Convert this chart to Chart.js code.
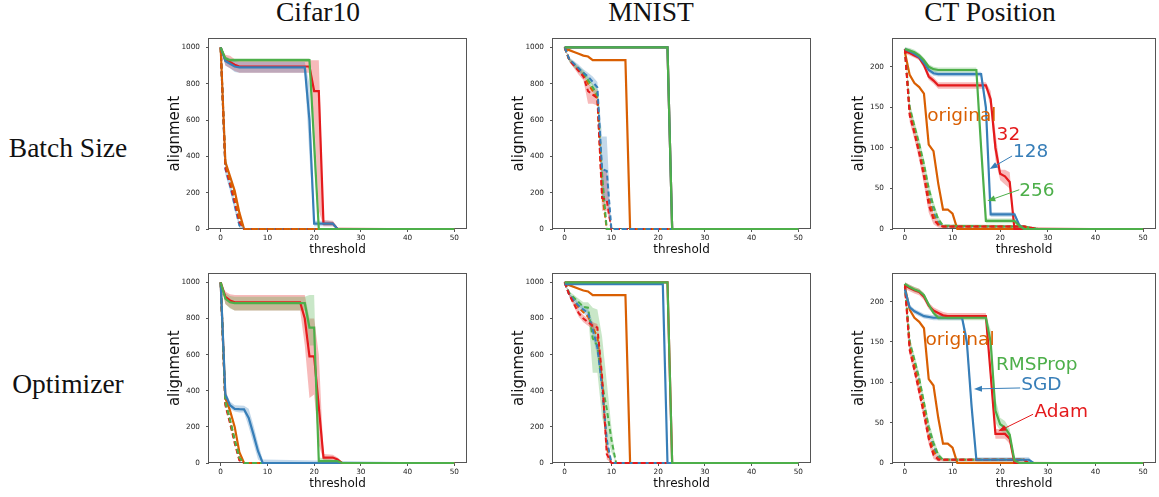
<!DOCTYPE html>
<html>
<head>
<meta charset="utf-8">
<script src="https://cdn.jsdelivr.net/npm/chart.js@4.4.1/dist/chart.umd.min.js"></script>
<style>
  body { margin: 0; background: #fff; width: 1159px; height: 497px; position: relative; overflow: hidden; }
  .lbl { position: absolute; font-family: "Liberation Serif", "Times New Roman", serif; font-size: 27.5px;
         line-height: 1; white-space: nowrap; transform: translate(-50%, -50%); color: #111; }
  canvas { position: absolute; }
</style>
</head>
<body>
<div class="lbl" style="left:318px; top:12px">Cifar10</div>
<div class="lbl" style="left:651px; top:12px">MNIST</div>
<div class="lbl" style="left:990px; top:12px">CT Position</div>
<div class="lbl" style="left:68px; top:148px">Batch Size</div>
<div class="lbl" style="left:68px; top:384px">Optimizer</div>

<script>
// ---- axis ticks ----
const thresholdTicks = [0, 10, 20, 30, 40, 50];
const countTicks = [0, 200, 400, 600, 800, 1000];
const ctTicks = [0, 50, 100, 150, 200];

// ---- Cifar10 / batch size ----
const cbX32 = [0, 1, 2, 3, 4, 19, 20, 21, 22, 24, 25, 50];
const cb32 = [1000, 930, 920, 905, 895, 895, 760, 760, 30, 30, 0, 0];
const cb32Hi = [1000, 960, 955, 935, 930, 930, 930, 930, 50, 45, 10, 0];
const cb32Lo = [1000, 900, 885, 870, 860, 860, 600, 100, 15, 15, 0, 0];
const cbX128 = [0, 1, 2, 3, 4, 18, 19, 20, 23, 24, 25, 50];
const cb128 = [1000, 925, 910, 895, 890, 890, 600, 30, 30, 30, 0, 0];
const cb128Hi = [1000, 950, 935, 925, 920, 920, 800, 45, 45, 40, 5, 0];
const cb128Lo = [1000, 900, 885, 865, 860, 860, 400, 15, 15, 15, 0, 0];
const cbX256 = [0, 1, 2, 19, 20, 21, 50];
const cb256 = [1000, 940, 930, 930, 470, 0, 0];
const cb256Hi = [1000, 950, 940, 940, 600, 0, 0];
const cb256Lo = [1000, 930, 920, 920, 350, 0, 0];
const cbXOrig = [0, 1, 2, 3, 4, 5, 50];
const cbOrig = [1000, 370, 290, 210, 90, 0, 0];
const cbOrigDash = [1000, 360, 270, 180, 60, 0, 0];
const cb32Dash = [1000, 340, 250, 150, 40, 0, 0];
const cb128Dash = [1000, 330, 240, 130, 20, 0, 0];
const cb128DashHi = [1000, 360, 270, 160, 40, 0, 0];
const cb128DashLo = [1000, 300, 210, 100, 5, 0, 0];
const cb256Dash = [1000, 350, 260, 160, 50, 0, 0];

// ---- MNIST / batch size ----
const mbXTop = [0, 22, 23, 50];
const mb32 = [1000, 1000, 0, 0];
const mb128 = [1000, 1000, 0, 0];
const mb256 = [1000, 1000, 0, 0];
const mbXOrig = [0, 1, 2, 3, 4, 5, 6, 13, 14, 50];
const mbOrig = [990, 985, 975, 965, 955, 950, 930, 930, 0, 0];
const mbXDash = [0, 1, 2, 3, 4, 5, 6, 7, 8, 9, 10, 50];
const mb128Dash = [1000, 935, 910, 885, 860, 840, 810, 780, 330, 320, 0, 0];
const mb128DashHi = [1000, 945, 925, 905, 880, 860, 840, 810, 510, 510, 0, 0];
const mb128DashLo = [1000, 925, 895, 865, 840, 820, 790, 760, 150, 150, 0, 0];
const mb32Dash = [1000, 930, 900, 870, 840, 760, 740, 720, 170, 160, 0, 0];
const mb32DashHi = [1000, 940, 915, 890, 860, 800, 780, 760, 330, 320, 0, 0];
const mb32DashLo = [1000, 920, 885, 850, 820, 690, 690, 680, 100, 100, 0, 0];
const mb256Dash = [1000, 930, 905, 880, 860, 820, 780, 740, 300, 0, 0, 0];
const mb256DashHi = [1000, 940, 920, 895, 875, 840, 800, 770, 400, 0, 0, 0];
const mb256DashLo = [1000, 920, 890, 865, 845, 800, 760, 710, 200, 0, 0, 0];
const mbOrigDash = [1000, 930, 905, 875, 850, 800, 760, 720, 200, 0, 0, 0];

// ---- CT Position / batch size ----
const tbX256 = [0, 1, 2, 3, 4, 5, 6, 7, 15, 16, 17, 23, 24, 25, 50];
const tb256 = [222, 220, 218, 214, 208, 200, 197, 196, 196, 100, 10, 10, 4, 0, 0];
const tb256Hi = [224, 223, 221, 217, 211, 203, 200, 199, 199, 110, 13, 13, 6, 0, 0];
const tb256Lo = [220, 217, 215, 211, 205, 197, 194, 193, 193, 90, 7, 7, 2, 0, 0];
const tbX128 = [0, 1, 2, 3, 4, 5, 6, 7, 16, 17, 18, 23, 24, 25, 50];
const tb128 = [222, 219, 216, 212, 205, 196, 192, 191, 191, 150, 18, 18, 5, 0, 0];
const tb128Hi = [224, 222, 219, 215, 208, 199, 195, 194, 194, 160, 21, 21, 7, 1, 0];
const tb128Lo = [220, 216, 213, 209, 202, 193, 189, 188, 188, 140, 15, 15, 3, 0, 0];
const tbX32 = [0, 1, 2, 3, 4, 5, 6, 7, 17, 18, 19, 20, 21, 22, 23, 50];
const tb32 = [219, 217, 214, 211, 202, 188, 183, 177, 177, 160, 100, 68, 65, 58, 0, 0];
const tb32Hi = [222, 220, 217, 214, 206, 192, 187, 181, 181, 170, 120, 73, 73, 70, 3, 0];
const tb32Lo = [216, 214, 211, 208, 198, 184, 179, 173, 173, 150, 85, 60, 55, 50, 0, 0];
const tbXOrig = [0, 1, 2, 3, 4, 5, 6, 7, 8, 9, 10, 11, 50];
const tbOrig = [218, 190, 180, 175, 167, 104, 96, 56, 24, 24, 19, 0, 0];
const tbXDash = [0, 1, 2, 3, 4, 5, 6, 7, 8, 25, 28, 50];
const tb32Dash = [222, 140, 118, 93, 65, 30, 12, 5, 3, 3, 0, 0];
const tb32DashHi = [222, 148, 126, 101, 75, 40, 20, 9, 5, 5, 0, 0];
const tb32DashLo = [222, 132, 110, 85, 55, 20, 6, 2, 1, 1, 0, 0];
const tb128Dash = [222, 145, 122, 98, 72, 42, 20, 8, 3, 3, 0, 0];
const tb256Dash = [222, 150, 127, 105, 80, 50, 28, 12, 4, 3, 0, 0];
const tb256DashHi = [222, 156, 133, 111, 87, 57, 34, 16, 6, 5, 0, 0];
const tb256DashLo = [222, 144, 121, 99, 73, 43, 22, 8, 2, 1, 0, 0];
const tbOrigDash = [222, 143, 120, 96, 70, 38, 16, 6, 3, 3, 0, 0];

// ---- Cifar10 / optimizer ----
const coXAdam = [0, 1, 2, 3, 17, 18, 19, 20, 21, 22, 24, 25, 26, 50];
const coAdam = [1000, 920, 900, 890, 890, 800, 590, 590, 310, 30, 30, 20, 0, 0];
const coAdamHi = [1000, 950, 935, 930, 930, 930, 800, 800, 600, 50, 45, 30, 5, 0];
const coAdamLo = [1000, 880, 860, 845, 845, 650, 360, 380, 100, 15, 15, 10, 0, 0];
const coXRms = [0, 1, 2, 3, 18, 19, 20, 21, 25, 26, 50];
const coRms = [1000, 910, 890, 885, 885, 750, 750, 10, 10, 0, 0];
const coRmsHi = [1000, 940, 925, 920, 920, 930, 930, 30, 15, 0, 0];
const coRmsLo = [1000, 880, 855, 845, 845, 650, 650, 0, 0, 0, 0];
const coXSgd = [0, 1, 2, 3, 4, 5, 6, 7, 8, 9, 50];
const coSgd = [1000, 380, 320, 300, 298, 297, 250, 160, 65, 0, 0];
const coSgdHi = [1000, 400, 340, 320, 318, 317, 300, 210, 110, 20, 0];
const coSgdLo = [1000, 360, 300, 285, 280, 280, 200, 110, 20, 0, 0];
const coXOrig = [0, 1, 2, 3, 4, 5, 50];
const coOrig = [1000, 360, 290, 200, 60, 0, 0];
const coAdamDash = [1000, 320, 220, 110, 15, 0, 0];
const coSgdDash = [1000, 330, 230, 120, 20, 0, 0];
const coRmsDash = [1000, 340, 240, 130, 30, 0, 0];
const coOrigDash = [1000, 335, 235, 125, 25, 0, 0];

// ---- MNIST / optimizer ----
const moXTop = [0, 22, 23, 50];
const moAdam = [1000, 1000, 0, 0];
const moRms = [1000, 1000, 0, 0];
const moXSgd = [0, 21, 22, 50];
const moSgd = [990, 990, 0, 0];
const moXOrig = [0, 1, 2, 3, 4, 5, 6, 13, 14, 50];
const moOrig = [990, 985, 975, 965, 955, 950, 930, 930, 0, 0];
const moXDash = [0, 1, 2, 3, 4, 5, 6, 7, 8, 9, 10, 11, 50];
const moRmsDash = [1000, 940, 915, 890, 865, 860, 690, 650, 440, 300, 130, 0, 0];
const moRmsDashHi = [1000, 950, 930, 910, 890, 890, 860, 850, 700, 450, 200, 0, 0];
const moRmsDashLo = [1000, 930, 900, 870, 840, 830, 500, 500, 250, 150, 60, 0, 0];
const moSgdDash = [1000, 930, 900, 870, 850, 830, 740, 640, 420, 130, 0, 0, 0];
const moSgdDashHi = [1000, 940, 915, 890, 870, 855, 780, 690, 480, 180, 0, 0, 0];
const moSgdDashLo = [1000, 920, 885, 850, 830, 805, 700, 590, 360, 80, 0, 0, 0];
const moAdamDash = [1000, 930, 880, 830, 800, 780, 760, 750, 480, 50, 0, 0, 0];
const moAdamDashHi = [1000, 940, 895, 850, 820, 800, 780, 770, 540, 100, 0, 0, 0];
const moAdamDashLo = [1000, 920, 865, 810, 780, 760, 740, 730, 420, 20, 0, 0, 0];
const moOrigDash = [1000, 930, 895, 860, 835, 810, 750, 700, 450, 90, 0, 0, 0];

// ---- CT Position / optimizer ----
const toXAdam = [0, 1, 2, 3, 4, 5, 6, 7, 8, 9, 17, 18, 19, 21, 22, 23, 50];
const toAdam = [220, 217, 214, 212, 206, 195, 189, 186, 183, 182, 182, 110, 36, 36, 30, 0, 0];
const toAdamHi = [224, 221, 218, 216, 210, 199, 193, 190, 187, 186, 186, 120, 42, 42, 36, 2, 0];
const toAdamLo = [216, 213, 210, 208, 202, 191, 185, 182, 179, 178, 178, 100, 30, 30, 24, 0, 0];
const toXRms = [0, 1, 2, 3, 4, 5, 6, 7, 17, 18, 19, 20, 21, 22, 23, 24, 50];
const toRms = [222, 218, 215, 213, 208, 196, 186, 180, 180, 150, 65, 48, 44, 35, 3, 0, 0];
const toRmsHi = [224, 221, 218, 216, 211, 199, 189, 183, 183, 165, 80, 56, 52, 42, 6, 0, 0];
const toRmsLo = [220, 215, 212, 210, 205, 193, 183, 177, 177, 135, 50, 40, 36, 28, 1, 0, 0];
const toXSgd = [0, 1, 2, 3, 4, 6, 12, 13, 14, 15, 26, 27, 50];
const toSgd = [215, 193, 188, 185, 182, 180, 180, 150, 70, 4, 4, 0, 0];
const toSgdHi = [217, 196, 191, 188, 185, 183, 183, 160, 80, 7, 7, 1, 0];
const toSgdLo = [213, 190, 185, 182, 179, 177, 177, 140, 60, 2, 2, 0, 0];
const toXOrig = [0, 1, 2, 3, 4, 5, 6, 7, 8, 9, 10, 11, 50];
const toOrig = [218, 190, 180, 175, 167, 104, 96, 56, 24, 24, 19, 0, 0];
const toXDash = [0, 1, 2, 3, 4, 5, 6, 7, 8, 25, 26, 50];
const toAdamDash = [220, 140, 115, 88, 60, 30, 10, 4, 4, 4, 0, 0];
const toAdamDashHi = [222, 146, 121, 94, 67, 37, 16, 7, 6, 6, 0, 0];
const toAdamDashLo = [218, 134, 109, 82, 53, 23, 5, 2, 2, 2, 0, 0];
const toRmsDash = [222, 150, 128, 105, 75, 45, 25, 10, 4, 4, 0, 0];
const toRmsDashHi = [222, 156, 134, 111, 82, 52, 31, 14, 6, 6, 0, 0];
const toRmsDashLo = [222, 144, 122, 99, 68, 38, 19, 6, 2, 2, 0, 0];
const toSgdDash = [222, 147, 125, 100, 70, 40, 20, 7, 4, 4, 0, 0];
const toOrigDash = [221, 144, 120, 95, 66, 35, 15, 5, 4, 4, 0, 0];

// ---- in-plot labels (data coordinates) ----
const tbNoteText = ['original', '32', '128', '256'];
const tbNoteX = [4.7, 19.25, 22.7, 24.0];
const tbNoteY = [139, 116, 95, 47];
const toNoteText = ['original', 'RMSProp', 'SGD', 'Adam'];
const toNoteX = [4.3, 19.1, 24.4, 27.2];
const toNoteY = [152, 121.6, 97, 62.5];

const RED = '#e41a1c', BLUE = '#377eb8', GREEN = '#4daf4a', ORANGE = '#d95f02';

function rgba(hex, a) {
  const n = parseInt(hex.slice(1), 16);
  return `rgba(${(n >> 16) & 255}, ${(n >> 8) & 255}, ${n & 255}, ${a})`;
}
function pts(xs, ys) { return xs.map((x, i) => ({ x: x, y: ys[i] })); }
function line(xs, ys, color, dashed) {
  return { data: pts(xs, ys), borderColor: color, borderWidth: dashed ? 2 : 2.2,
           borderDash: dashed ? [5, 3] : [], pointRadius: 0, tension: 0, fill: false, clip: 3 };
}
function band(xs, lo, hi, color) {
  const clear = 'rgba(0,0,0,0)';
  return [
    { data: pts(xs, lo), borderColor: clear, borderWidth: 1, pointRadius: 0, fill: false },
    { data: pts(xs, hi), borderColor: clear, borderWidth: 1, pointRadius: 0, fill: '-1',
      backgroundColor: rgba(color, 0.3) }
  ];
}

// frame round the plot area; lines along zero run over it
const framePlugin = {
  id: 'frame',
  beforeDatasetsDraw(chart) {
    const { ctx, chartArea: a } = chart;
    ctx.save();
    ctx.strokeStyle = '#555';
    ctx.lineWidth = 1;
    ctx.strokeRect(Math.round(a.left) - 0.5, Math.round(a.top) + 0.5,
                   Math.round(a.right - a.left) + 1, Math.round(a.bottom - a.top) - 1);
    ctx.restore();
  }
};

// text labels and arrows inside the CT plots
const notesPlugin = {
  id: 'notes',
  afterDatasetsDraw(chart, args, opts) {
    if (!opts.text) return;
    const { ctx } = chart;
    const sx = chart.scales.x, sy = chart.scales.y;
    ctx.save();
    ctx.font = '18.5px "DejaVu Sans", sans-serif';
    ctx.textBaseline = 'middle';
    ctx.textAlign = 'left';
    opts.text.forEach((t, i) => {
      ctx.fillStyle = opts.colors[i];
      ctx.fillText(t, sx.getPixelForValue(opts.x[i]), sy.getPixelForValue(opts.y[i]));
    });
    (opts.arrows || []).forEach(ar => {
      const x0 = sx.getPixelForValue(ar[0]), y0 = sy.getPixelForValue(ar[1]);
      const x1 = sx.getPixelForValue(ar[2]), y1 = sy.getPixelForValue(ar[3]);
      const ang = Math.atan2(y1 - y0, x1 - x0);
      ctx.strokeStyle = ar[4];
      ctx.fillStyle = ar[4];
      ctx.lineWidth = 1;
      ctx.beginPath();
      ctx.moveTo(x0, y0);
      ctx.lineTo(x1 - 6 * Math.cos(ang), y1 - 6 * Math.sin(ang));
      ctx.stroke();
      ctx.beginPath();
      ctx.moveTo(x1, y1);
      ctx.lineTo(x1 - 8 * Math.cos(ang) + 3 * Math.sin(ang), y1 - 8 * Math.sin(ang) - 3 * Math.cos(ang));
      ctx.lineTo(x1 - 8 * Math.cos(ang) - 3 * Math.sin(ang), y1 - 8 * Math.sin(ang) + 3 * Math.cos(ang));
      ctx.closePath();
      ctx.fill();
    });
    ctx.restore();
  }
};

const colLeft = [209, 553, 893], colRight = [466, 810, 1155];
const rowTop = [36, 271], rowBottom = [229, 463];
const Y_AXIS_W = 60, X_AXIS_H = 28, PAD_TOP = 8, PAD_RIGHT = 3;

function makeChart(col, row, yMax, yTicks, layers, notes) {
  const canvas = document.createElement('canvas');
  const left = colLeft[col] - Y_AXIS_W, top = rowTop[row] - PAD_TOP;
  const w = colRight[col] + PAD_RIGHT - left, h = rowBottom[row] + X_AXIS_H - top;
  canvas.width = w; canvas.height = h;
  canvas.style.left = left + 'px'; canvas.style.top = top + 'px';
  canvas.style.width = w + 'px'; canvas.style.height = h + 'px';
  document.body.appendChild(canvas);

  const datasets = layers.flat();
  // first entry sits at the bottom, last one on top
  datasets.forEach((d, i) => { d.order = datasets.length - i; });

  const tickFont = { family: '"DejaVu Sans", sans-serif', size: 7.3 };
  const grid = { drawOnChartArea: false, drawTicks: true, tickLength: 3, color: '#555' };

  new Chart(canvas, {
    type: 'line',
    data: { datasets: datasets },
    options: {
      responsive: false,
      animation: false,
      layout: { padding: { top: PAD_TOP, right: PAD_RIGHT, left: 0, bottom: 0 } },
      plugins: { legend: { display: false }, tooltip: { enabled: false }, notes: notes || {} },
      scales: {
        x: {
          type: 'linear', min: -2.5, max: 52.5,
          afterBuildTicks: s => { s.ticks = thresholdTicks.map(v => ({ value: v })); },
          afterFit: s => { s.height = X_AXIS_H; },
          ticks: { font: tickFont, color: '#222', padding: 2, maxRotation: 0, callback: v => String(v) },
          grid: grid, border: { display: false },
          title: { display: true, text: 'threshold', color: '#111',
                   font: { family: '"DejaVu Sans", sans-serif', size: 12 }, padding: 0 }
        },
        y: {
          type: 'linear', min: 0, max: yMax,
          afterBuildTicks: s => { s.ticks = yTicks.map(v => ({ value: v })); },
          afterFit: s => { s.width = Y_AXIS_W; },
          ticks: { font: tickFont, color: '#222', padding: 6, callback: v => String(v) },
          grid: grid, border: { display: false },
          title: { display: true, text: 'alignment', color: '#111',
                   font: { family: '"DejaVu Sans", sans-serif', size: 15 }, padding: { top: 17, bottom: 0 } }
        }
      }
    },
    plugins: [framePlugin, notesPlugin]
  });
}

// Cifar10, batch size
makeChart(0, 0, 1050, countTicks, [
  band(cbX32, cb32Lo, cb32Hi, RED),
  band(cbX128, cb128Lo, cb128Hi, BLUE),
  band(cbX256, cb256Lo, cb256Hi, GREEN),
  band(cbXOrig, cb128DashLo, cb128DashHi, BLUE),
  line(cbXOrig, cbOrig, ORANGE, false),
  line(cbXOrig, cb128Dash, BLUE, true),
  line(cbXOrig, cb256Dash, GREEN, true),
  line(cbXOrig, cb32Dash, RED, true),
  line(cbXOrig, cbOrigDash, ORANGE, true),
  line(cbX32, cb32, RED, false),
  line(cbX128, cb128, BLUE, false),
  line(cbX256, cb256, GREEN, false)
]);

// MNIST, batch size
makeChart(1, 0, 1050, countTicks, [
  band(mbXDash, mb32DashLo, mb32DashHi, RED),
  band(mbXDash, mb128DashLo, mb128DashHi, BLUE),
  band(mbXDash, mb256DashLo, mb256DashHi, GREEN),
  line(mbXOrig, mbOrig, ORANGE, false),
  line(mbXDash, mbOrigDash, ORANGE, true),
  line(mbXDash, mb256Dash, GREEN, true),
  line(mbXDash, mb32Dash, RED, true),
  line(mbXDash, mb128Dash, BLUE, true),
  line(mbXTop, mb32, RED, false),
  line(mbXTop, mb128, BLUE, false),
  line(mbXTop, mb256, GREEN, false)
]);

// CT Position, batch size
makeChart(2, 0, 235, ctTicks, [
  band(tbX32, tb32Lo, tb32Hi, RED),
  band(tbX128, tb128Lo, tb128Hi, BLUE),
  band(tbX256, tb256Lo, tb256Hi, GREEN),
  band(tbXDash, tb32DashLo, tb32DashHi, RED),
  band(tbXDash, tb256DashLo, tb256DashHi, GREEN),
  line(tbXOrig, tbOrig, ORANGE, false),
  line(tbXDash, tb128Dash, BLUE, true),
  line(tbXDash, tb256Dash, GREEN, true),
  line(tbXDash, tbOrigDash, ORANGE, true),
  line(tbXDash, tb32Dash, RED, true),
  line(tbX32, tb32, RED, false),
  line(tbX128, tb128, BLUE, false),
  line(tbX256, tb256, GREEN, false)
], {
  text: tbNoteText, x: tbNoteX, y: tbNoteY, colors: [ORANGE, RED, BLUE, GREEN],
  arrows: [[22.5, 90, 17.8, 74, BLUE], [24.0, 48.4, 17.3, 34.5, GREEN]]
});

// Cifar10, optimizer
makeChart(0, 1, 1050, countTicks, [
  band(coXAdam, coAdamLo, coAdamHi, RED),
  band(coXRms, coRmsLo, coRmsHi, GREEN),
  band(coXSgd, coSgdLo, coSgdHi, BLUE),
  line(coXOrig, coOrig, ORANGE, false),
  line(coXOrig, coSgdDash, BLUE, true),
  line(coXOrig, coAdamDash, RED, true),
  line(coXOrig, coOrigDash, ORANGE, true),
  line(coXOrig, coRmsDash, GREEN, true),
  line(coXSgd, coSgd, BLUE, false),
  line(coXAdam, coAdam, RED, false),
  line(coXRms, coRms, GREEN, false)
]);

// MNIST, optimizer
makeChart(1, 1, 1050, countTicks, [
  band(moXDash, moRmsDashLo, moRmsDashHi, GREEN),
  band(moXDash, moSgdDashLo, moSgdDashHi, BLUE),
  band(moXDash, moAdamDashLo, moAdamDashHi, RED),
  line(moXOrig, moOrig, ORANGE, false),
  line(moXDash, moOrigDash, ORANGE, true),
  line(moXDash, moRmsDash, GREEN, true),
  line(moXDash, moSgdDash, BLUE, true),
  line(moXDash, moAdamDash, RED, true),
  line(moXTop, moAdam, RED, false),
  line(moXSgd, moSgd, BLUE, false),
  line(moXTop, moRms, GREEN, false)
]);

// CT Position, optimizer
makeChart(2, 1, 235, ctTicks, [
  band(toXAdam, toAdamLo, toAdamHi, RED),
  band(toXRms, toRmsLo, toRmsHi, GREEN),
  band(toXSgd, toSgdLo, toSgdHi, BLUE),
  band(toXDash, toAdamDashLo, toAdamDashHi, RED),
  band(toXDash, toRmsDashLo, toRmsDashHi, GREEN),
  line(toXOrig, toOrig, ORANGE, false),
  line(toXDash, toSgdDash, BLUE, true),
  line(toXDash, toRmsDash, GREEN, true),
  line(toXDash, toOrigDash, ORANGE, true),
  line(toXDash, toAdamDash, RED, true),
  line(toXSgd, toSgd, BLUE, false),
  line(toXAdam, toAdam, RED, false),
  line(toXRms, toRms, GREEN, false)
], {
  text: toNoteText, x: toNoteX, y: toNoteY, colors: [ORANGE, GREEN, BLUE, RED],
  arrows: [[24.2, 93, 14.5, 91.8, BLUE], [26.9, 60.4, 19.6, 39.2, RED]]
});
</script>
</body>
</html>
